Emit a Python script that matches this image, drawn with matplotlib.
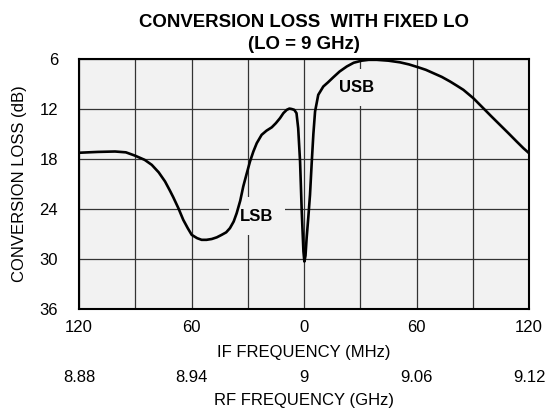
import numpy as np
import matplotlib.pyplot as plt

plt.rcParams['font.family'] = ['Liberation Sans', 'DejaVu Sans']

# IF frequency (MHz, negative = LSB side) and conversion loss (dB)
if_mhz = [-120, -110, -100.8, -95, -90.1, -85, -81.2, -77.5, -74.1, -71.5,
          -69.7, -67, -64.4, -62, -59.9, -57, -54.6, -52, -49.2, -46.5,
          -43.9, -41.5, -39.5, -37.5, -35.9, -34, -32.4, -30.5, -28.8, -27,
          -25.2, -22.6, -20, -17.2, -15, -12.8, -11, -9.2, -7.8, -6.6,
          -5.2, -4.0, -3.1, -2.1, -1.2, -0.3, 0.2, 0.8, 1.4, 2.3,
          3.2, 4.1, 5.0, 5.9, 7.6, 10.3, 12.8, 15.6, 19, 22.8,
          26.5, 30.8, 34.5, 38.8, 45, 51.2, 56, 61, 65, 69,
          73.5, 77.9, 81.5, 85, 90.3, 95.6, 100, 104.5, 109, 113.4,
          117, 120]
loss_db = [17.25, 17.15, 17.1, 17.2, 17.6, 18.1, 18.7, 19.6, 20.7, 21.8,
           22.6, 23.9, 25.3, 26.3, 27.1, 27.5, 27.7, 27.7, 27.6, 27.4,
           27.1, 26.8, 26.3, 25.5, 24.5, 23.0, 21.3, 19.7, 18.3, 17.1,
           16.1, 15.1, 14.6, 14.2, 13.7, 13.1, 12.5, 12.1, 11.95, 12.0,
           12.1, 12.5, 14.3, 18.3, 24.3, 29.1, 30.3, 29.6, 27.5, 25.0,
           22.3, 18.5, 15.0, 12.3, 10.3, 9.3, 8.8, 8.2, 7.5, 6.9,
           6.45, 6.2, 6.1, 6.1, 6.2, 6.4, 6.65, 7.0, 7.3, 7.7,
           8.15, 8.7, 9.2, 9.7, 10.7, 11.9, 12.9, 13.9, 14.9, 15.9,
           16.7, 17.3]

if_ticks = [-120, -60, 0, 60, 120]
if_labels = ['120', '60', '0', '60', '120']
rf_labels = ['8.88', '8.94', '9', '9.06', '9.12']
y_ticks = [6, 12, 18, 24, 30, 36]

fig = plt.figure(figsize=(5.47, 4.12), dpi=100)
ax = fig.add_axes([79 / 547, 1 - 309 / 412, 450 / 547, 250 / 412])
ax.set_facecolor('#f2f2f2')

ax.plot(if_mhz, loss_db, color='black', lw=1.9, zorder=5,
        solid_joinstyle='round', solid_capstyle='round')

ax.set_xlim(-120, 120)
ax.set_ylim(36, 6)
ax.set_xticks(np.arange(-120, 121, 30))
ax.set_xticklabels([if_labels[i // 2] if i % 2 == 0 else '' for i in range(9)])
ax.set_yticks(y_ticks)
ax.tick_params(axis='x', length=0, labelsize=12, pad=8)
ax.tick_params(axis='y', length=0, labelsize=12, pad=15)
ax.grid(True, color='#333333', lw=0.9, zorder=1)
ax.set_axisbelow(True)
for s in ax.spines.values():
    s.set_linewidth(1.5)
    s.set_zorder(6)

ax.set_xlabel('IF FREQUENCY (MHz)', fontsize=12, labelpad=7)
ax.set_ylabel('CONVERSION LOSS (dB)', fontsize=12, labelpad=9)

sec = ax.secondary_xaxis('bottom')
sec.set_xticks(if_ticks)
sec.set_xticklabels(rf_labels)
sec.spines['bottom'].set_position(('outward', 36))
sec.spines['bottom'].set_visible(False)
sec.tick_params(length=0, labelsize=12, pad=8)
sec.set_xlabel('RF FREQUENCY (GHz)', fontsize=12, labelpad=6)

ax.text(-25.1, 24.85, 'LSB', fontsize=12, fontweight='bold', ha='center', va='center',
        zorder=3, bbox=dict(facecolor='#f2f2f2', edgecolor='none', pad=8))
ax.text(28.3, 9.4, 'USB', fontsize=12, fontweight='bold', ha='center', va='center',
        zorder=3, bbox=dict(facecolor='#f2f2f2', edgecolor='none', pad=8))

ax.set_title('CONVERSION LOSS  WITH FIXED LO\n(LO = 9 GHz)', fontsize=13.4,
             fontweight='bold', pad=7, linespacing=1.4)

fig.savefig('out.png', dpi=100)
